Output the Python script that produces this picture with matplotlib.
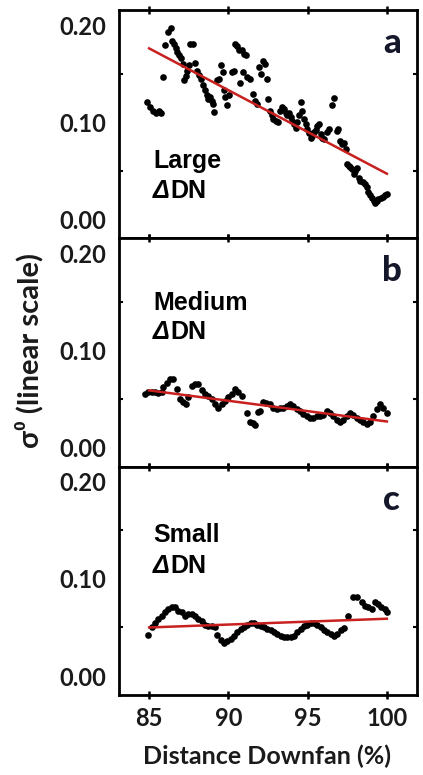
import matplotlib
matplotlib.use("Agg")
import matplotlib.pyplot as plt
import numpy as np

# ---------------- data ----------------
dist_a = [84.85, 85.06, 85.23, 85.44, 85.65, 85.76, 85.90, 86.01, 86.22, 86.37, 86.43, 86.58,
          86.70, 86.79, 86.91, 87.02, 87.12, 87.21, 87.33, 87.42, 87.50, 87.58, 87.75, 87.88,
          88.00, 88.17, 88.30, 88.42, 88.53, 88.63, 88.74, 88.84, 88.97, 89.05, 89.12, 89.26,
          89.39, 89.52, 89.64, 89.73, 89.81, 89.89, 90.02, 90.21, 90.36, 90.42, 90.57, 90.69,
          90.84, 90.99, 91.09, 90.74, 90.90, 91.16, 91.37, 91.58, 91.68, 91.79, 91.91, 92.04,
          92.16, 92.29, 92.42, 92.52, 92.63, 92.73, 92.84, 92.98, 93.11, 93.26, 93.38, 93.51,
          93.61, 93.72, 93.82, 93.93, 94.03, 94.14, 94.24, 94.35, 94.45, 94.56, 94.66, 94.77,
          94.87, 94.98, 95.08, 95.19, 95.29, 95.40, 95.50, 95.61, 95.71, 95.82, 95.92, 96.03,
          96.20, 96.37, 96.53, 96.68, 96.83, 96.93, 97.04, 97.16, 97.29, 97.39, 97.48, 97.58,
          97.69, 97.79, 97.90, 98.00, 98.11, 98.21, 98.32, 98.47, 98.59, 98.72, 98.84, 98.95,
          99.05, 99.16, 99.26, 99.37, 99.47, 99.60, 99.73, 99.85, 99.98]
sigma_a = [0.121, 0.116, 0.112, 0.110, 0.112, 0.109, 0.147, 0.179, 0.193, 0.197, 0.184, 0.181,
           0.176, 0.172, 0.169, 0.166, 0.160, 0.143, 0.148, 0.153, 0.159, 0.181, 0.181, 0.161,
           0.153, 0.149, 0.144, 0.138, 0.133, 0.128, 0.124, 0.126, 0.122, 0.119, 0.111, 0.143,
           0.145, 0.159, 0.152, 0.133, 0.126, 0.118, 0.128, 0.152, 0.153, 0.181, 0.178, 0.174,
           0.174, 0.170, 0.169, 0.140, 0.152, 0.147, 0.145, 0.129, 0.122, 0.119, 0.157, 0.150,
           0.163, 0.160, 0.145, 0.124, 0.112, 0.107, 0.103, 0.101, 0.100, 0.112, 0.116, 0.114,
           0.110, 0.107, 0.109, 0.105, 0.101, 0.098, 0.094, 0.100, 0.107, 0.121, 0.112, 0.103,
           0.098, 0.093, 0.089, 0.084, 0.086, 0.090, 0.092, 0.096, 0.098, 0.088, 0.084, 0.083,
           0.090, 0.093, 0.118, 0.125, 0.091, 0.093, 0.081, 0.078, 0.079, 0.072, 0.057, 0.055,
           0.054, 0.052, 0.047, 0.050, 0.053, 0.043, 0.040, 0.038, 0.036, 0.033, 0.028, 0.025,
           0.022, 0.019, 0.017, 0.019, 0.021, 0.022, 0.023, 0.025, 0.026]

dist_b = [84.75, 84.96, 85.17, 85.38, 85.59, 85.80, 85.90, 86.11, 86.30, 86.50, 86.74, 86.95,
          87.16, 87.33, 87.48, 87.69, 87.90, 88.10, 88.32, 88.53, 88.74, 88.95, 89.16, 89.37,
          89.58, 89.79, 90.00, 90.21, 90.42, 90.63, 90.84, 91.16, 91.37, 91.58, 91.68, 91.89,
          92.00, 92.20, 92.40, 92.63, 92.84, 93.05, 93.26, 93.47, 93.68, 93.89, 94.10, 94.31,
          94.52, 94.73, 94.94, 95.15, 95.36, 95.57, 95.78, 95.99, 96.20, 96.41, 96.62, 96.83,
          97.04, 97.25, 97.46, 97.67, 97.88, 98.09, 98.30, 98.51, 98.72, 98.93, 99.14, 99.35,
          99.56, 99.77, 99.98]
sigma_b = [0.055, 0.057, 0.057, 0.057, 0.056, 0.057, 0.062, 0.067, 0.071, 0.071, 0.060, 0.050,
           0.047, 0.045, 0.052, 0.064, 0.066, 0.066, 0.059, 0.055, 0.053, 0.050, 0.045, 0.041,
           0.045, 0.048, 0.052, 0.055, 0.060, 0.057, 0.053, 0.036, 0.026, 0.025, 0.023, 0.037,
           0.038, 0.047, 0.046, 0.045, 0.041, 0.040, 0.041, 0.041, 0.043, 0.045, 0.043, 0.040,
           0.038, 0.035, 0.033, 0.031, 0.031, 0.033, 0.033, 0.034, 0.038, 0.036, 0.033, 0.029,
           0.026, 0.029, 0.033, 0.036, 0.034, 0.031, 0.029, 0.026, 0.024, 0.026, 0.033, 0.040,
           0.045, 0.041, 0.036]

dist_c = [84.90, 85.17, 85.38, 85.59, 85.80, 86.01, 86.22, 86.43, 86.64, 86.85, 87.06, 87.27,
          87.48, 87.69, 87.90, 88.11, 88.32, 88.53, 88.74, 88.95, 89.16, 89.31, 89.52, 89.73,
          89.94, 90.15, 90.36, 90.57, 90.78, 90.99, 91.20, 91.41, 91.62, 91.83, 92.04, 92.25,
          92.46, 92.67, 92.88, 93.09, 93.30, 93.51, 93.72, 93.93, 94.14, 94.35, 94.56, 94.77,
          94.98, 95.19, 95.40, 95.61, 95.82, 96.03, 96.24, 96.45, 96.66, 96.87, 97.08, 97.29,
          97.56, 97.88, 98.13, 98.40, 98.61, 98.82, 99.03, 99.24, 99.45, 99.66, 99.87, 100.02]
sigma_c = [0.042, 0.050, 0.055, 0.059, 0.062, 0.066, 0.069, 0.071, 0.071, 0.067, 0.066, 0.062,
           0.064, 0.064, 0.062, 0.059, 0.057, 0.053, 0.052, 0.052, 0.050, 0.042, 0.037, 0.034,
           0.036, 0.038, 0.041, 0.045, 0.048, 0.051, 0.053, 0.055, 0.055, 0.053, 0.052, 0.050,
           0.048, 0.047, 0.045, 0.043, 0.041, 0.040, 0.040, 0.040, 0.041, 0.045, 0.048, 0.052,
           0.053, 0.055, 0.055, 0.053, 0.050, 0.047, 0.045, 0.043, 0.041, 0.043, 0.047, 0.049,
           0.062, 0.081, 0.081, 0.076, 0.072, 0.071, 0.069, 0.076, 0.074, 0.071, 0.069, 0.066]

# linear fits (values at start / end of the range)
fit_x = [85.0, 100.0]
fit_a = [0.176, 0.047]
fit_b = [0.059, 0.027]
fit_c = [0.050, 0.059]

panel_letters = ["a", "b", "c"]
panel_names = ["Large", "Medium", "Small"]
x_ticks = [85, 90, 95, 100]
y_ticks = [0.00, 0.10, 0.20]
y_tick_labels = ["0.00", "0.10", "0.20"]

# ---------------- plot ----------------
lab_font = ["Lato", "DejaVu Sans"]
txt_font = ["Liberation Sans", "DejaVu Sans"]

fig = plt.figure(figsize=(4.23, 7.75), dpi=100)
left, right, top, bottom = 119 / 423, 417 / 423, 1 - 10 / 775, 1 - 695 / 775
h = (top - bottom) / 3

datasets = [(dist_a, sigma_a, fit_a), (dist_b, sigma_b, fit_b), (dist_c, sigma_c, fit_c)]
name_y = [(0.308, 0.176), (0.684, 0.561), (0.671, 0.535)]

for i, (xs, ys, fit) in enumerate(datasets):
    ax = fig.add_axes([left, top - (i + 1) * h, right - left, h])
    ax.plot(xs, ys, "o", color="black", markersize=4.8, markeredgewidth=0, zorder=2)
    ax.plot(fit_x, fit, color="#c8201e", linewidth=1.8, zorder=3)
    ax.set_xlim(83.1, 101.9)
    ax.set_ylim(-0.0195, 0.2155)
    ax.set_xticks(x_ticks)
    ax.set_yticks(y_ticks)
    ax.set_yticklabels(y_tick_labels)
    ax.set_yticks([0.05, 0.15], minor=True)
    ax.tick_params(axis="x", direction="inout", top=True, bottom=True, length=6, width=1.8)
    ax.tick_params(axis="y", which="major", length=0, pad=9)
    ax.tick_params(axis="y", which="minor", direction="in", left=True, right=True, length=3, width=1.5)
    for lbl in ax.get_yticklabels():
        lbl.set_fontfamily(lab_font)
        lbl.set_fontweight("bold")
        lbl.set_fontsize(17)
        lbl.set_color("#1a1a1a")
    if i < 2:
        ax.tick_params(axis="x", labelbottom=False)
    else:
        ax.tick_params(axis="x", pad=6)
        for lbl in ax.get_xticklabels():
            lbl.set_fontfamily(lab_font)
            lbl.set_fontweight("bold")
            lbl.set_fontsize(17)
            lbl.set_color("#1a1a1a")
    for sp in ax.spines.values():
        sp.set_linewidth(2.0)
    ax.text(0.915, 0.855, panel_letters[i], transform=ax.transAxes, ha="center", va="center",
            fontsize=25, fontweight="black", family=lab_font, color="#15182a")
    ax.text(0.115, name_y[i][0], panel_names[i], transform=ax.transAxes, ha="left",
            va="baseline", fontsize=18, fontweight="bold", family=txt_font)
    d = ax.text(0.115, name_y[i][1], "Δ", transform=ax.transAxes, ha="left", va="baseline",
                fontsize=18, fontweight="bold", fontstyle="italic", family=txt_font)
    ax.annotate("DN", xy=(1, 0), xycoords=d, ha="left", va="bottom",
                fontsize=18, fontweight="bold", family=txt_font)

fig.text(267 / 423, 1 - 756 / 775, "Distance Downfan (%)", ha="center", va="center",
         fontsize=18, fontweight="bold", family=lab_font, color="#1a1a1a")
fig.text(29 / 423, 1 - 351 / 775, "σ⁰ (linear scale)", ha="center", va="center", rotation=90,
         fontsize=21, fontweight="bold", family=lab_font, color="#1a1a1a")

fig.savefig("out.png", dpi=100)
